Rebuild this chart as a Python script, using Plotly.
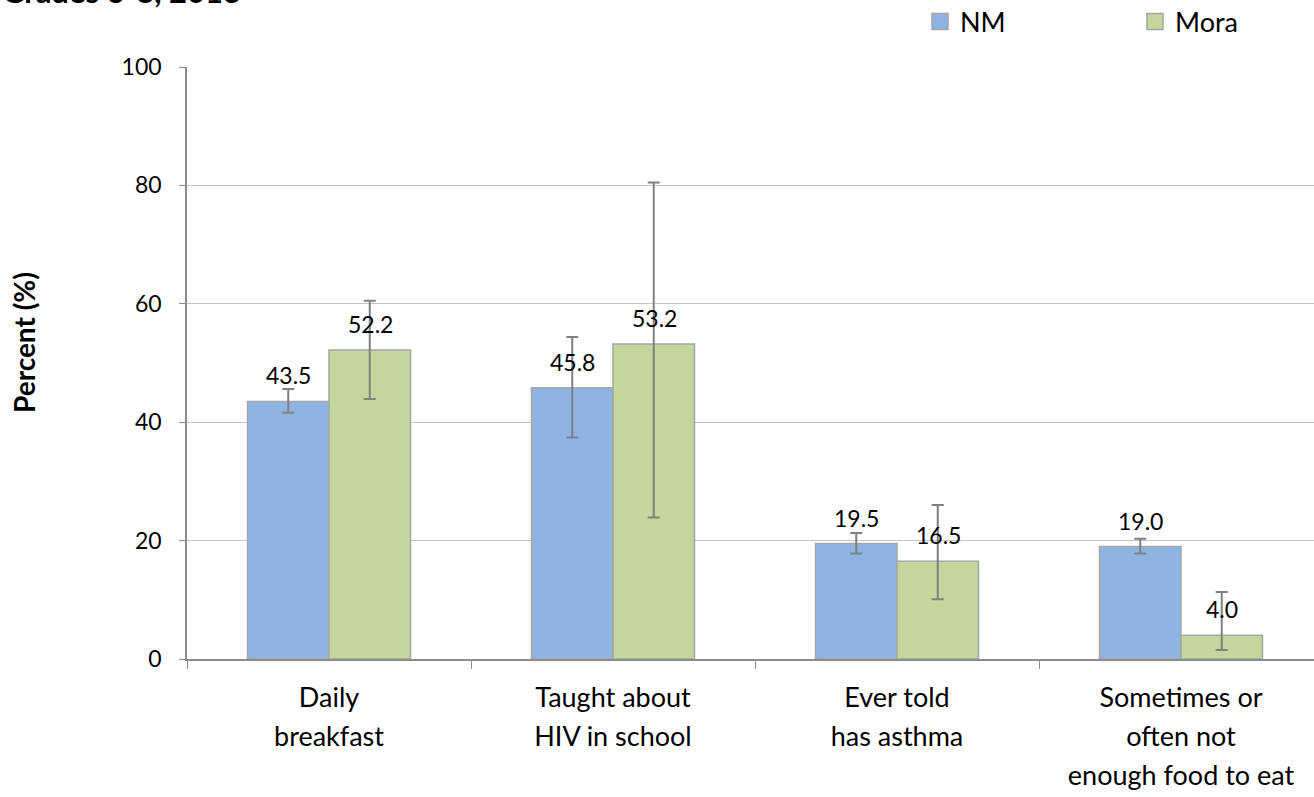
import plotly.graph_objects as go

# Survey indicators, Grades 6-8, 2013
categories = [
    "Daily<br>breakfast",
    "Taught about<br>HIV in school",
    "Ever told<br>has asthma",
    "Sometimes or<br>often not<br>enough food to eat",
]
nm_values = [43.5, 45.8, 19.5, 19.0]
nm_upper = [45.6, 54.4, 21.3, 20.3]
nm_lower = [41.6, 37.4, 17.8, 17.8]
mora_values = [52.2, 53.2, 16.5, 4.0]
mora_upper = [60.5, 80.5, 26.0, 11.3]
mora_lower = [43.9, 23.9, 10.1, 1.5]
y_ticks = [0, 20, 40, 60, 80, 100]

FONT = "Lato"
GRID = "#C4C4C4"
AXIS = "#8C8C8C"
ERR = "#808080"
EDGE = "#A6A6A6"
NM_COLOR = "#8EB4E3"
MORA_COLOR = "#C3D69B"

W, H = 1314, 797
L, R, T, B = 187, 0, 67, 138
PLOT_W = W - L - R
PLOT_H = H - T - B


def err_arrays(vals, hi, lo):
    return (
        [round(h - v, 2) for v, h in zip(vals, hi)],
        [round(v - l, 2) for v, l in zip(vals, lo)],
    )


nm_plus, nm_minus = err_arrays(nm_values, nm_upper, nm_lower)
mo_plus, mo_minus = err_arrays(mora_values, mora_upper, mora_lower)

fig = go.Figure()
for name, vals, plus, minus, color in (
    ("NM", nm_values, nm_plus, nm_minus, NM_COLOR),
    ("Mora", mora_values, mo_plus, mo_minus, MORA_COLOR),
):
    fig.add_trace(go.Bar(
        name=name, x=categories, y=vals, showlegend=False, legendgroup=name,
        marker=dict(color=color, line=dict(color=EDGE, width=1.5)),
        error_y=dict(type="data", symmetric=False, array=plus, arrayminus=minus,
                     color=ERR, thickness=2, width=6),
    ))

# legend keys drawn as larger square swatches
for name, color in (("NM", NM_COLOR), ("Mora", MORA_COLOR)):
    fig.add_trace(go.Scatter(
        name=name, x=[categories[0]], y=[None], mode="markers", legendgroup=name,
        marker=dict(symbol="square", size=16, color=color, line=dict(color=EDGE, width=1.5)),
    ))

# value labels above each bar
annotations = []
for vals, shift in ((nm_values, -41), (mora_values, 41)):
    for cat, v in zip(categories, vals):
        annotations.append(dict(
            x=cat, y=v, xref="x", yref="y", text=f"{v:.1f}", showarrow=False,
            xshift=shift, yanchor="bottom", yshift=10,
            font=dict(family=FONT, size=23, color="#000000"),
        ))

# chart title line (top of the page)
annotations.append(dict(
    xref="paper", yref="paper", x=-L / PLOT_W, y=1, xanchor="left", yanchor="bottom",
    yshift=55, text="<b>Grades 6-8, 2013</b>", showarrow=False,
    font=dict(family=FONT, size=31, color="#000000"),
))

# y-axis title
annotations.append(dict(
    xref="paper", yref="paper", x=(24 - L) / PLOT_W, y=(T + PLOT_H - 343) / PLOT_H,
    xanchor="center", yanchor="middle", textangle=-90, showarrow=False,
    text="<b>Percent (%)</b>", font=dict(family=FONT, size=28, color="#000000"),
))

# category labels: wider line spacing than the default
tick_text = [
    "<br>".join(f'<span style="font-size:27px">{ln}</span>' for ln in c.split("<br>"))
    for c in categories
]

band = 284.0
x_max = -0.5 + PLOT_W / band

fig.update_layout(
    width=W, height=H,
    margin=dict(l=L, r=R, t=T, b=B, pad=0),
    paper_bgcolor="white", plot_bgcolor="white",
    barmode="group", bargap=0.426, bargroupgap=0,
    font=dict(family=FONT, color="#000000"),
    showlegend=True,
    legend=dict(
        orientation="h", xref="container", yref="container",
        x=920 / W, y=1 - 22 / H, xanchor="left", yanchor="middle",
        font=dict(family=FONT, size=27), entrywidth=170, entrywidthmode="pixels",
        bgcolor="rgba(0,0,0,0)", traceorder="normal",
    ),
    annotations=annotations,
    xaxis=dict(
        range=[-0.5, x_max], tickmode="array", tickvals=categories, ticktext=tick_text,
        tickson="boundaries", ticks="outside", ticklen=8, tickcolor=AXIS, tickwidth=1,
        showline=True, linecolor=AXIS, linewidth=1.5, showgrid=False,
        tickfont=dict(family=FONT, size=30), ticklabelstandoff=10,
    ),
    yaxis=dict(
        range=[0, 100], tickvals=y_ticks, ticks="outside", ticklen=6, tickcolor=AXIS,
        showline=True, linecolor=AXIS, linewidth=1.5,
        showgrid=True, gridcolor=GRID, gridwidth=1.2, zeroline=False,
        tickfont=dict(family=FONT, size=23), ticklabelstandoff=13,
    ),
)

fig.write_html("out.html")
